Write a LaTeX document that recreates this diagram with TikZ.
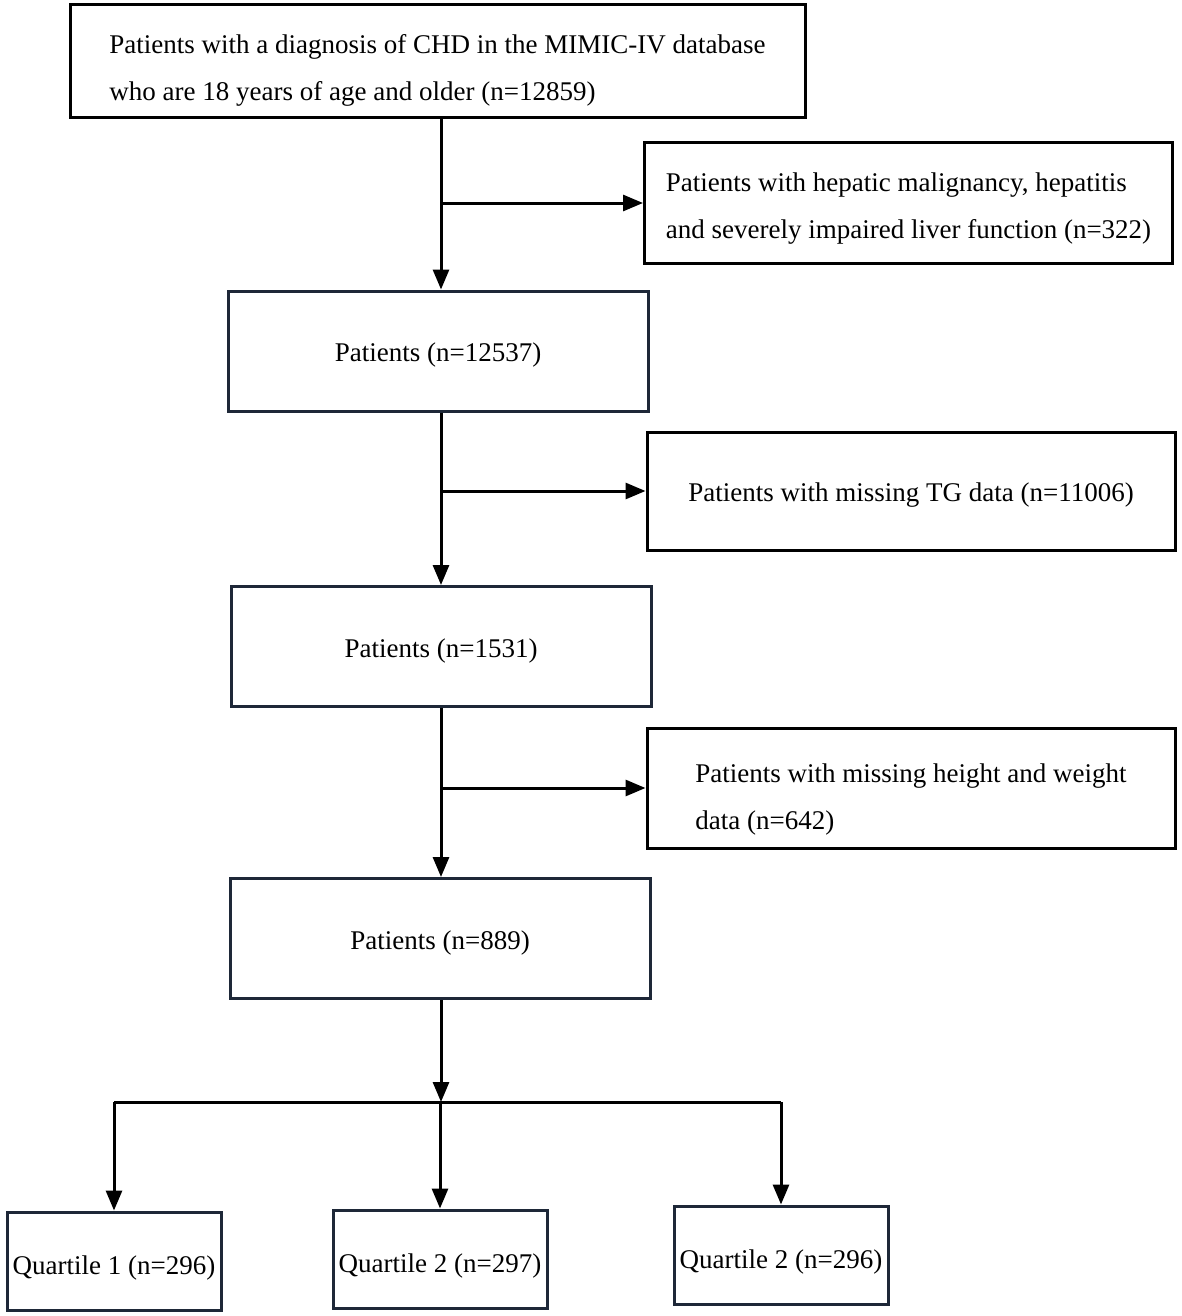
\documentclass[tikz,border=0pt]{standalone}
\usepackage{fontspec}
\setmainfont{Liberation Serif}
\usetikzlibrary{arrows.meta}
\definecolor{boxnavy}{RGB}{30,40,56}
\newcommand{\lowtext}[1]{\rule{0pt}{#1}}
\tikzset{%
  boxfont/.style={font=\fontsize{27}{47}\selectfont},%
  flowbox/.style={draw=boxnavy, line width=3pt, minimum width=420pt, minimum height=120pt, inner sep=0pt, boxfont, execute at begin node={\lowtext{27pt}}},%
  exclbox/.style={draw=black, line width=3pt, minimum width=528pt, minimum height=120pt, inner sep=0pt, align=left, boxfont},%
  qbox/.style={draw=boxnavy, line width=3pt, minimum width=214pt, minimum height=98pt, inner sep=0pt, boxfont, execute at begin node={\lowtext{33pt}}},%
  arr/.style={line width=3pt, -{Triangle[length=20pt,width=16pt]}},%
}
\begin{document}
\begin{tikzpicture}[x=1pt,y=-1pt]%
\useasboundingbox (0,0) rectangle (1181,1316);%
%
\node[exclbox, minimum width=735pt, minimum height=113pt] (top) at (437.5,61.5) {\lowtext{37pt}Patients with a diagnosis of CHD in the MIMIC-IV database\\who are 18 years of age and older (n=12859)};%
\node[exclbox] (ex1) at (908.5,203) {\lowtext{29pt}Patients with hepatic malignancy, hepatitis\\and severely impaired liver function (n=322)};%
\node[flowbox] (p1) at (438,351) {Patients (n=12537)};%
%
\node[exclbox, minimum height=118pt] (ex2) at (911,491) {\lowtext{27pt}Patients with missing TG data (n=11006)};%
\node[flowbox] (p2) at (441,646.5) {Patients (n=1531)};%
%
\node[exclbox] (ex3) at (911,788) {\lowtext{41pt}Patients with missing height and weight\\data (n=642)};%
\node[flowbox] (p3) at (440,938.5) {Patients (n=889)};%
%
\coordinate (split) at (441,1102);%
\node[qbox] (q1) at (114,1261) {Quartile 1 (n=296)};%
\node[qbox] (q2) at (440,1259) {Quartile 2 (n=297)};%
\node[qbox] (q3) at (781,1255) {Quartile 2 (n=296)};%
%
\draw[arr] (top.south -| split) -- (p1.north -| split);%
\draw[arr] (ex1.west -| split) -- (ex1.west);%
\draw[arr] (p1.south -| split) -- (p2.north -| split);%
\draw[arr] (ex2.west -| split) -- (ex2.west);%
\draw[arr] (p2.south -| split) -- (p3.north -| split);%
\draw[arr] (ex3.west -| split) -- (ex3.west);%
\draw[arr] (p3.south -| split) -- (split);%
\draw[line width=3pt] (q1.north |- split) -- (q3.north |- split);%
\draw[arr] (q1.north |- split) -- (q1.north);%
\draw[arr] (q2.north |- split) -- (q2.north);%
\draw[arr] (q3.north |- split) -- (q3.north);%
\end{tikzpicture}
\end{document}
